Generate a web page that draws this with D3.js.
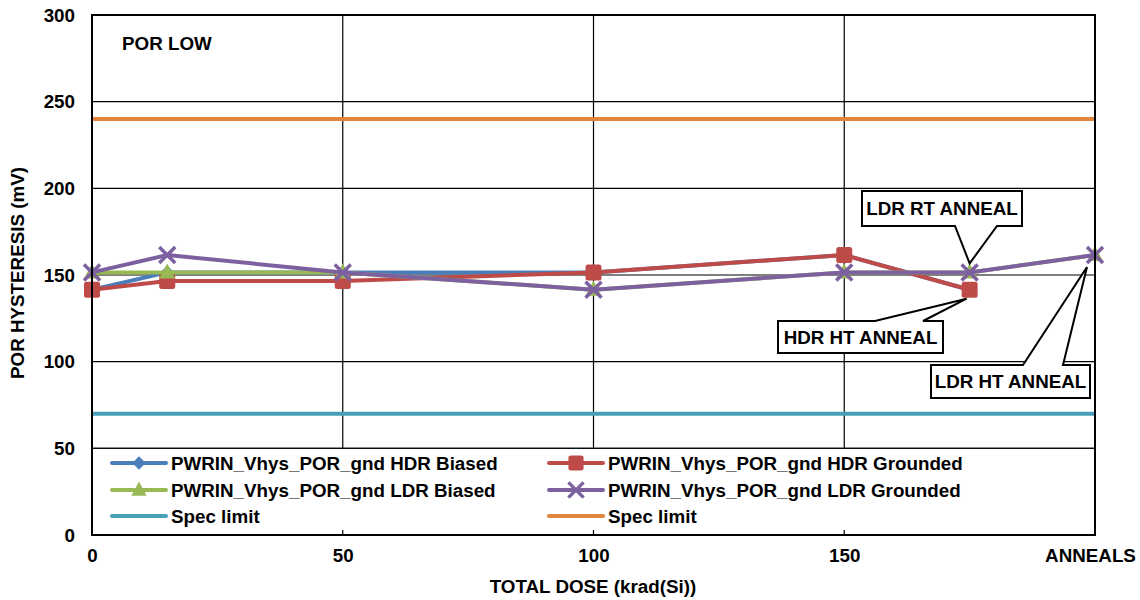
<!DOCTYPE html>
<html><head><meta charset="utf-8">
<script src="https://cdn.jsdelivr.net/npm/d3@7"></script>
<style>body{margin:0;background:#fff}svg{display:block}text{font-family:"Liberation Sans",Arial,sans-serif;font-weight:bold;fill:#000}</style>
</head><body>
<svg id="c" width="1140" height="600"></svg>
<script>
const doses = [0, 15, 50, 100, 150, 175, 200];
const xTickValues = [0, 50, 100, 150, 200];
const xTickLabels = ["0", "50", "100", "150", "ANNEALS"];
const yTickValues = [0, 50, 100, 150, 200, 250, 300];
const hdrBiased = [141.5, 151.5, 151.5, 151.5, 161.5, 141.5, null];
const hdrGrounded = [141.5, 146.5, 146.5, 151.5, 161.5, 141.5, null];
const ldrBiased = [151.5, 151.5, 151.5, 141.5, 151.5, 151.5, 161.5];
const ldrGrounded = [151.5, 161.5, 151.5, 141.5, 151.5, 151.5, 161.5];
const specLow = 70, specHigh = 240;
const seriesNames = ["PWRIN_Vhys_POR_gnd HDR Biased","PWRIN_Vhys_POR_gnd HDR Grounded","PWRIN_Vhys_POR_gnd LDR Biased","PWRIN_Vhys_POR_gnd LDR Grounded","Spec limit","Spec limit"];
const annotations = [
  {text:"LDR RT ANNEAL", series:"ldr", idx:5},
  {text:"HDR HT ANNEAL", series:"hdr", idx:5},
  {text:"LDR HT ANNEAL", series:"ldr", idx:6}
];

const svg = d3.select("#c");
const L=92,R=1095,T=15,B=535;
const x = d3.scaleLinear().domain([0,200]).range([L,R]);
const y = d3.scaleLinear().domain([0,300]).range([B,T]);
const FS = 18.8;

const colors = {blue:"#4A7EBB", red:"#BE4B48", green:"#98B954", purple:"#7D60A0", cyan:"#4A9FB8", orange:"#E3853D"};

// grid
const g = svg.append("g");
g.selectAll(".hg").data(yTickValues).enter().append("line")
  .attr("x1",L).attr("x2",R).attr("y1",d=>y(d)).attr("y2",d=>y(d))
  .attr("stroke","#000").attr("stroke-width",1.2);
g.selectAll(".vg").data([50,100,150]).enter().append("line")
  .attr("x1",d=>x(d)).attr("x2",d=>x(d)).attr("y1",T).attr("y2",B)
  .attr("stroke","#000").attr("stroke-width",1.2);

// axes labels
const yAxis = d3.axisLeft(y).tickValues(yTickValues).tickSize(0).tickPadding(17);
const ya = svg.append("g").attr("transform",`translate(${L},0)`).call(yAxis);
ya.select(".domain").remove();
ya.selectAll("text").style("font-size",FS+"px").style("font-family","Liberation Sans, Arial, sans-serif").style("font-weight","bold");

const xAxis = d3.axisBottom(x).tickValues(xTickValues).tickSize(0).tickPadding(14).tickFormat((d,i)=>xTickLabels[i]);
const xa = svg.append("g").attr("transform",`translate(0,${B})`).call(xAxis);
xa.select(".domain").remove();
xa.selectAll("text").style("font-size",FS+"px").style("font-family","Liberation Sans, Arial, sans-serif").style("font-weight","bold")
  .attr("dx",(d,i)=>i===xTickLabels.length-1?-5:0);

svg.append("text").attr("x",593).attr("y",593).attr("text-anchor","middle").style("font-size",FS+"px").text("TOTAL DOSE (krad(Si))");
svg.append("text").attr("transform","translate(24,273) rotate(-90)").attr("text-anchor","middle").style("font-size",FS+"px").text("POR HYSTERESIS (mV)");
svg.append("text").attr("x",122).attr("y",50).style("font-size",FS+"px").text("POR LOW");

// spec limits
[[specLow,colors.cyan],[specHigh,colors.orange]].forEach(([v,c])=>{
  svg.append("line").attr("x1",L).attr("x2",R).attr("y1",y(v)).attr("y2",y(v)).attr("stroke",c).attr("stroke-width",4);
});

// markers
function marker(sel, type, color){
  if(type==="diamond") sel.append("path").attr("d","M0,-7L7,0L0,7L-7,0Z").attr("fill",color);
  else if(type==="square") sel.append("rect").attr("x",-8).attr("y",-8).attr("width",16).attr("height",16).attr("rx",2.5).attr("fill",color);
  else if(type==="triangle") sel.append("path").attr("d","M0,-9L8,6L-8,6Z").attr("fill",color);
  else if(type==="x") sel.append("path").attr("d","M-8,-8L8,8M-8,8L8,-8").attr("stroke",color).attr("stroke-width",3.5).attr("fill","none");
}

const series = [
  {vals:hdrBiased,color:colors.blue,m:"diamond"},
  {vals:hdrGrounded,color:colors.red,m:"square"},
  {vals:ldrBiased,color:colors.green,m:"triangle"},
  {vals:ldrGrounded,color:colors.purple,m:"x"}
];
const line = d3.line().defined(d=>d[1]!=null).x(d=>x(d[0])).y(d=>y(d[1]));
series.forEach(s=>{
  const pts = doses.map((d,i)=>[d,s.vals[i]]);
  svg.append("path").attr("d",line(pts)).attr("fill","none").attr("stroke",s.color).attr("stroke-width",4).attr("stroke-linejoin","round");
  pts.filter(p=>p[1]!=null).forEach(p=>{
    marker(svg.append("g").attr("transform",`translate(${x(p[0])},${y(p[1])})`), s.m, s.color);
  });
});

// legend
const lg = svg.append("g");
lg.append("rect").attr("x",L).attr("y",y(50)).attr("width",R-L).attr("height",B-y(50)).attr("fill","#fff").attr("stroke","#000").attr("stroke-width",1.2);
const legItems = [
  {name:seriesNames[0],color:colors.blue,m:"diamond",col:0,row:0},
  {name:seriesNames[1],color:colors.red,m:"square",col:1,row:0},
  {name:seriesNames[2],color:colors.green,m:"triangle",col:0,row:1},
  {name:seriesNames[3],color:colors.purple,m:"x",col:1,row:1},
  {name:seriesNames[4],color:colors.cyan,m:null,col:0,row:2},
  {name:seriesNames[5],color:colors.orange,m:null,col:1,row:2}
];
const colX=[112,549], rowY=[463,490,516];
legItems.forEach(it=>{
  const x0=colX[it.col], yy=rowY[it.row];
  lg.append("line").attr("x1",x0).attr("x2",x0+54).attr("y1",yy).attr("y2",yy).attr("stroke",it.color).attr("stroke-width",4).attr("stroke-linecap","round");
  if(it.m) marker(lg.append("g").attr("transform",`translate(${x0+27},${yy}) scale(0.95)`), it.m, it.color);
  lg.append("text").attr("x",x0+59).attr("y",yy+6.5).style("font-size",FS+"px").text(it.name);
});
// inner ticks on x axis
svg.selectAll(".xt").data([50,100,150]).enter().append("line")
  .attr("x1",d=>x(d)).attr("x2",d=>x(d)).attr("y1",B).attr("y2",B-5).attr("stroke","#000").attr("stroke-width",1.2);

// plot border
svg.append("rect").attr("x",L).attr("y",T).attr("width",R-L).attr("height",B-T).attr("fill","none").attr("stroke","#000").attr("stroke-width",2);

// callouts
const seriesMap = {ldr:ldrGrounded, hdr:hdrGrounded};
const boxes = [
  {x0:862,y0:191,x1:1022,y1:226,edge:"bottom",wa:955,wb:997,dx:0,dy:-9},
  {x0:778,y0:321,x1:943,y1:353,edge:"top",wa:875,wb:923,dx:-3,dy:9},
  {x0:931,y0:365,x1:1090,y1:398,edge:"top",wa:1023,wb:1063,dx:-8,dy:12}
];
annotations.forEach((a,i)=>{
  const b=boxes[i];
  const px=x(doses[a.idx])+b.dx, py=y(seriesMap[a.series][a.idx])+b.dy;
  let d;
  if(b.edge==="bottom") d=`M${b.x0},${b.y0}L${b.x1},${b.y0}L${b.x1},${b.y1}L${b.wb},${b.y1}L${px},${py}L${b.wa},${b.y1}L${b.x0},${b.y1}Z`;
  else d=`M${b.x0},${b.y0}L${b.wa},${b.y0}L${px},${py}L${b.wb},${b.y0}L${b.x1},${b.y0}L${b.x1},${b.y1}L${b.x0},${b.y1}Z`;
  svg.append("path").attr("d",d).attr("fill","#fff").attr("stroke","#000").attr("stroke-width",2).attr("stroke-linejoin","miter");
  svg.append("text").attr("x",(b.x0+b.x1)/2).attr("y",(b.y0+b.y1)/2+6.5).attr("text-anchor","middle").style("font-size",FS+"px").text(a.text);
});
</script>
</body></html>
